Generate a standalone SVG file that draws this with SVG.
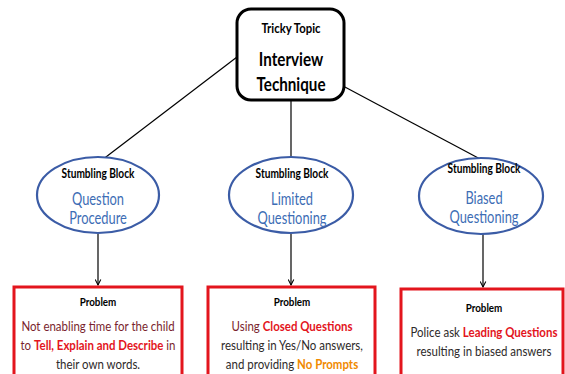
<svg xmlns="http://www.w3.org/2000/svg" width="565" height="374" viewBox="0 0 565 374">
<defs>
<marker id="arr" viewBox="0 0 10 10" refX="9" refY="5" markerWidth="7" markerHeight="7" orient="auto" markerUnits="userSpaceOnUse">
<path d="M1,1 L9,5 L1,9" fill="none" stroke="#000" stroke-width="1.5"/>
</marker>
<style>
text{font-family:Lato,"Open Sans","Liberation Sans",sans-serif;text-anchor:middle}
.hd{font-weight:bold;fill:#000}
.sb{font-size:13px}
.pr{font-size:12px}
.ell{fill:#fff;stroke:#3b5ca6;stroke-width:2.2}
.blue{fill:#3d6db5;font-size:16.5px}
.box{fill:#fff;stroke:#e3151d;stroke-width:3}
.body{font-size:13.5px;fill:#2e2a2a}
.dr{fill:#7a1f2e}
.red{fill:#e3151d;font-weight:bold}
.org{fill:#f08a00;font-weight:bold}
.ln{stroke:#000;stroke-width:1.2;fill:none}
</style>
</defs>
<rect width="565" height="374" fill="#fff"/>
<g id="connectors">
<line class="ln" x1="237" y1="57" x2="102" y2="160"/>
<line class="ln" x1="291" y1="100" x2="291" y2="158"/>
<line class="ln" x1="343" y1="86" x2="482" y2="160"/>
<line class="ln" x1="98" y1="234" x2="98" y2="285" marker-end="url(#arr)"/>
<line class="ln" x1="291" y1="234" x2="291" y2="285" marker-end="url(#arr)"/>
<line class="ln" x1="483" y1="234" x2="483" y2="287" marker-end="url(#arr)"/>
</g>
<g id="topic">
<rect x="237" y="9" width="107" height="91" rx="14" fill="#fff" stroke="#000" stroke-width="3"/>
<g transform="translate(291,0) scale(0.84,1)">
<text class="hd" x="0" y="33" font-size="13.5">Tricky Topic</text>
</g>
<g transform="translate(291,0) scale(0.8,1)">
<text class="hd" x="0" y="66" font-size="19">Interview</text>
<text class="hd" x="0" y="91" font-size="19">Technique</text>
</g>
</g>
<g id="sb1">
<ellipse class="ell" cx="98" cy="195" rx="61" ry="38"/>
<g transform="translate(98,0) scale(0.78,1)">
<text class="hd sb" x="0" y="178">Stumbling Block</text>
</g>
<g transform="translate(98,0) scale(0.78,1)">
<text class="blue" x="0" y="205">Question</text>
<text class="blue" x="0" y="224">Procedure</text>
</g>
</g>
<g id="sb2">
<ellipse class="ell" cx="291" cy="195" rx="62" ry="38"/>
<g transform="translate(292,0) scale(0.78,1)">
<text class="hd sb" x="0" y="178">Stumbling Block</text>
</g>
<g transform="translate(292,0) scale(0.78,1)">
<text class="blue" x="0" y="205">Limited</text>
<text class="blue" x="0" y="224">Questioning</text>
</g>
</g>
<g id="sb3">
<ellipse class="ell" cx="481" cy="196" rx="62" ry="38"/>
<g transform="translate(484,0) scale(0.78,1)">
<text class="hd sb" x="0" y="173">Stumbling Block</text>
</g>
<g transform="translate(484,0) scale(0.78,1)">
<text class="blue" x="0" y="204">Biased</text>
<text class="blue" x="0" y="223">Questioning</text>
</g>
</g>
<g id="p1">
<rect class="box" x="14" y="287" width="168" height="95"/>
<g transform="translate(98,0) scale(0.82,1)">
<text class="hd pr" x="0" y="306">Problem</text>
</g>
<g transform="translate(98,0) scale(0.85,1)">
<text class="body" x="0" y="331"><tspan class="dr">Not enabling time for the child</tspan></text>
<text class="body" x="0" y="350"><tspan class="dr">to </tspan><tspan class="red">Tell, Explain and Describe</tspan><tspan class="dr"> in</tspan></text>
<text class="body" x="0" y="369">their own words.</text>
</g>
</g>
<g id="p2">
<rect class="box" x="208" y="287" width="167" height="95"/>
<g transform="translate(292,0) scale(0.82,1)">
<text class="hd pr" x="0" y="306">Problem</text>
</g>
<g transform="translate(292,0) scale(0.85,1)">
<text class="body" x="0" y="331"><tspan class="dr">Using </tspan><tspan class="red">Closed Questions</tspan></text>
<text class="body" x="0" y="350">resulting in Yes/No answers,</text>
<text class="body" x="0" y="369">and providing <tspan class="org">No Prompts</tspan></text>
</g>
</g>
<g id="p3">
<rect class="box" x="401" y="289" width="162" height="95"/>
<g transform="translate(484,0) scale(0.82,1)">
<text class="hd pr" x="0" y="312">Problem</text>
</g>
<g transform="translate(484,0) scale(0.85,1)">
<text class="body" x="0" y="337">Police ask <tspan class="red">Leading Questions</tspan></text>
<text class="body" x="0" y="356">resulting in biased answers</text>
</g>
</g>
</svg>
